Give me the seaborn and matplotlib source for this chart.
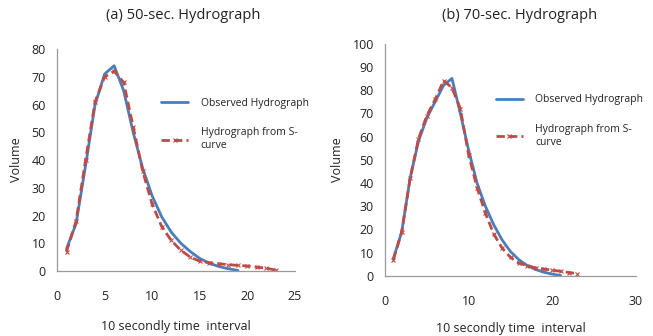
import numpy as np
import pandas as pd
import matplotlib
matplotlib.use("Agg")
import matplotlib.pyplot as plt
import seaborn as sns

# ---- data ----
a_obs_t = [1, 2, 3, 4, 5, 6, 7, 8, 9, 10, 11, 12, 13, 14, 15, 16, 17, 18, 19]
a_obs_v = [8, 17, 38, 60, 71, 74, 65, 50, 37, 27, 19.5, 14, 10, 7, 4.5, 2.8, 1.6, 0.8, 0.2]
a_s_t = [1, 2, 3, 4, 5, 6, 7, 8, 9, 10, 11, 12, 13, 14, 15, 16, 17, 18, 19, 20, 21, 22, 23]
a_s_v = [7, 18, 40, 61, 70, 72, 68, 52, 36, 24, 16, 11, 7.5, 5, 3.5, 3, 2.6, 2.3, 2, 1.8, 1.4, 1, 0.3]

b_obs_t = [1, 2, 3, 4, 5, 6, 7, 8, 9, 10, 11, 12, 13, 14, 15, 16, 17, 18, 19, 20, 21]
b_obs_v = [7.5, 19, 42, 58, 68, 75, 82, 85, 70, 54, 40, 30, 22, 15.5, 10.5, 7, 4.5, 2.8, 1.6, 0.8, 0.2]
b_s_t = [1, 2, 3, 4, 5, 6, 7, 8, 9, 10, 11, 12, 13, 14, 15, 16, 17, 18, 19, 20, 21, 22, 23]
b_s_v = [7, 19, 42, 59, 69, 76, 84, 81, 72, 52, 38, 27, 18, 12, 8, 5.5, 4.5, 3.5, 3, 2.5, 2, 1.5, 1]

titles = ["(a) 50-sec. Hydrograph", "(b) 70-sec. Hydrograph"]
label_obs = "Observed Hydrograph"
label_s = "Hydrograph from S-\ncurve"
xlabel = "10 secondly time  interval"
ylabel = "Volume"

sns.set_style("white")
plt.rcParams['font.family'] = ['Open Sans', 'DejaVu Sans']

BLUE = "#4A7EBB"
RED = "#BE4B48"
AXC = "#9a9a9a"

fig = plt.figure(figsize=(6.53, 3.36), dpi=100)
ax1 = fig.add_axes([0.0873, 0.1935, 0.3645, 0.6605])
ax2 = fig.add_axes([0.5896, 0.1786, 0.3844, 0.6919])

panels = [
    (ax1, a_obs_t, a_obs_v, a_s_t, a_s_v, (0, 25), [0, 5, 10, 15, 20, 25], (0, 80), range(0, 81, 10), (0.42, 0.80), 12),
    (ax2, b_obs_t, b_obs_v, b_s_t, b_s_v, (0, 30), [0, 10, 20, 30], (0, 100), range(0, 101, 10), (0.425, 0.80), 10),
]

for i, (ax, ot, ov, st, sv, xl, xt, yl, yt, lpos, xlp) in enumerate(panels):
    d_obs = pd.DataFrame({"t": ot, "v": ov})
    d_s = pd.DataFrame({"t": st, "v": sv})
    sns.lineplot(data=d_obs, x="t", y="v", ax=ax, color=BLUE, linewidth=2.0,
                 label=label_obs)
    sns.lineplot(data=d_s, x="t", y="v", ax=ax, color=RED, linewidth=2.0,
                 linestyle=(0, (3, 1.5)), marker="x", markersize=3,
                 markeredgecolor=RED, markeredgewidth=0.8, label=label_s)
    ax.set_xlim(*xl)
    ax.set_ylim(*yl)
    ax.set_xticks(xt)
    ax.set_yticks(list(yt))
    ax.tick_params(axis="both", length=0, labelsize=9, colors="#222222", pad=14)
    ax.tick_params(axis="y", pad=8)
    for s in ["top", "right"]:
        ax.spines[s].set_visible(False)
    for s in ["left", "bottom"]:
        ax.spines[s].set_color(AXC)
        ax.spines[s].set_linewidth(0.9)
    ax.set_xlabel(xlabel, fontsize=9, color="#222222", labelpad=xlp)
    ax.set_ylabel(ylabel, fontsize=9, color="#222222", labelpad=6)
    leg = ax.legend(loc="upper left", bbox_to_anchor=lpos, frameon=False,
                    fontsize=7.5, handlelength=2.6, labelspacing=1.8,
                    handletextpad=1.2, borderaxespad=0)
    for t in leg.get_texts():
        t.set_color("#222222")

fig.text(0.280, 0.955, titles[0], ha="center", va="center", fontsize=10.5, color="#222222")
fig.text(0.795, 0.955, titles[1], ha="center", va="center", fontsize=10.5, color="#222222")

fig.savefig("out.png", dpi=100, facecolor="white")
